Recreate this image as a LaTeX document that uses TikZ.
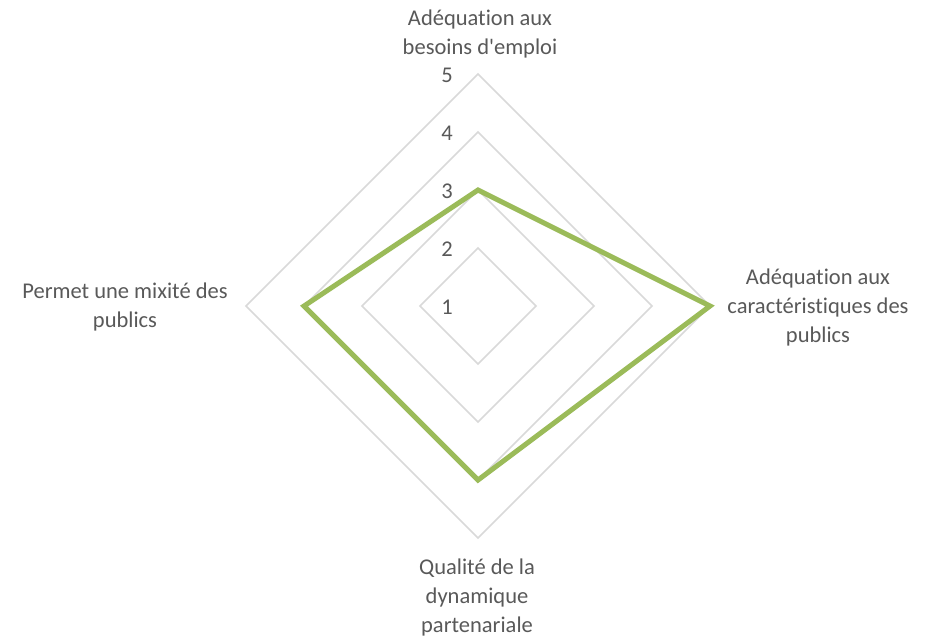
\documentclass[tikz,border=0pt]{standalone}
\usepackage{fontspec}
\setmainfont[Ligatures={NoCommon,TeXOff}]{Carlito}
\begin{document}
\begin{tikzpicture}[x=1pt,y=-1pt,
  gridline/.style={draw=gridgray,line width=1.5pt},
  series/.style={draw=seriesgreen,line width=5pt,line join=miter},
  lbl/.style={text=txtgray,font=\fontsize{22.5}{29}\selectfont,align=center,inner sep=0pt},
  tick/.style={text=txtgray,font=\fontsize{22.5}{29}\selectfont,anchor=center,inner sep=0pt}]
\definecolor{gridgray}{HTML}{D9D9D9}
\definecolor{seriesgreen}{HTML}{9BBB59}
\definecolor{txtgray}{HTML}{595959}
\useasboundingbox (0,0) rectangle (934,637);
\fill[white] (0,0) rectangle (934,637);
\coordinate (c) at (478,306);
% grid diamonds (levels 2..5)
\foreach \r in {58,116,174,232}{
  \draw[gridline] (478,306-\r) -- (478+\r,306) -- (478,306+\r) -- (478-\r,306) -- cycle;
}
% tick labels
\node[tick] (t1) at (447,307) {1};
\node[tick] (t2) at (447,249) {2};
\node[tick] (t3) at (447,191) {3};
\node[tick] (t4) at (447,133) {4};
\node[tick] (t5) at (447,75) {5};
% data points
\coordinate (pT) at (478,190);
\coordinate (pR) at (710,306);
\coordinate (pB) at (478,480);
\coordinate (pL) at (304,306);
\draw[series] (pT) -- (pR) -- (pB) -- (pL) -- cycle;
% axis labels
\node[lbl] (top) at (480,34) {Adéquation aux\\besoins d'emploi};
\node[lbl] (right) at (818,307) {Adéquation aux\\caractéristiques des\\publics};
\node[lbl] (left) at (125,307) {Permet une mixité des\\publics};
\node[lbl] (bottom) at (477,597) {Qualité de la\\dynamique\\partenariale};
\end{tikzpicture}
\end{document}
